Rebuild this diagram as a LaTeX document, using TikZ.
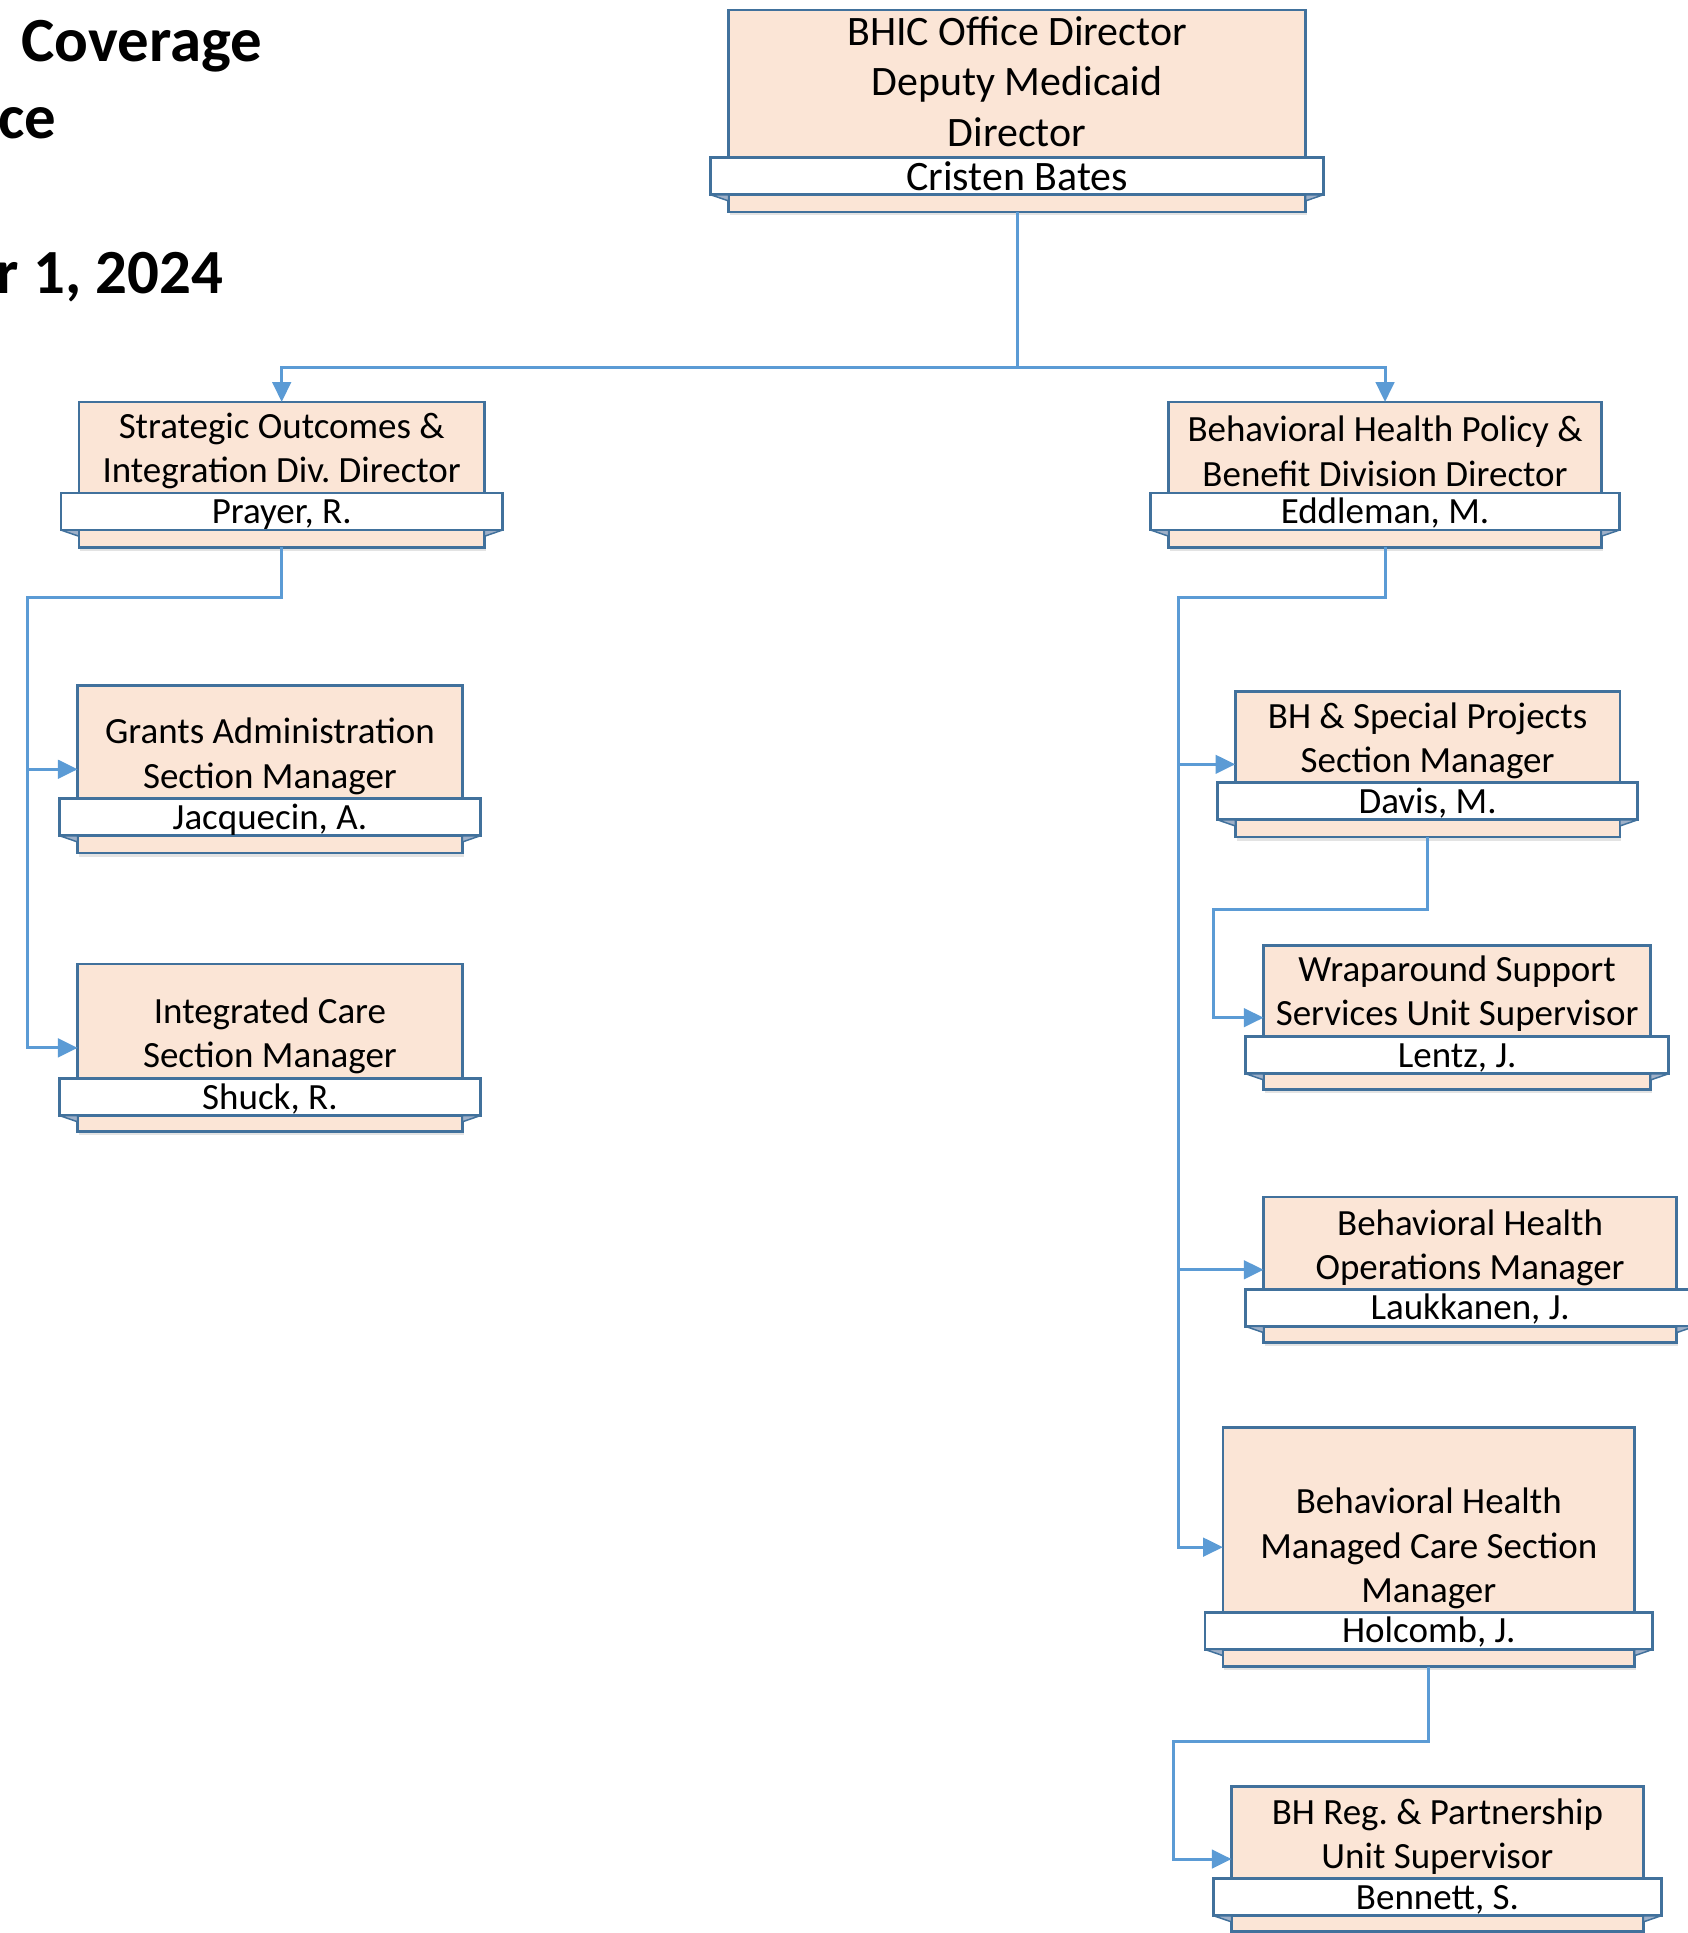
\documentclass[tikz,border=0pt]{standalone}
\usepackage{fontspec}
\setmainfont{Carlito}
\usetikzlibrary{arrows.meta,shadows}
\definecolor{peach}{HTML}{FBE5D6}
\definecolor{bordc}{HTML}{41719C}
\definecolor{connc}{HTML}{5B9BD5}
\definecolor{foldc}{HTML}{9FB0C8}
\tikzset{
 orgbox/.style={draw=bordc, fill=peach, line width=1.1pt, inner sep=0pt, outer sep=0pt,
   drop shadow={shadow xshift=0.6pt, shadow yshift=-1.4pt, opacity=0.18, fill=black!60}},
 bannerbox/.style={draw=bordc, fill=white, line width=1.1pt, inner sep=0pt, outer sep=0pt,
   font=\fontsize{15}{18}\selectfont\frenchspacing, text height=11.6pt, text depth=2pt},
 topbanner/.style={bannerbox, font=\fontsize{17}{20.5}\selectfont, text height=13.3pt, text depth=1.7pt},
 roletext/.style={font=\fontsize{15}{18}\selectfont\frenchspacing, align=center, inner sep=0pt, yshift=-1pt},
 toprole/.style={font=\fontsize{17}{20.5}\selectfont, align=center, inner sep=0pt, yshift=-0.5pt},
 foldtri/.style={draw=bordc, fill=foldc, line width=0.6pt, line join=round},
 conn/.style={draw=connc, line width=1.2pt, -{Triangle[length=8pt,width=7.5pt]}},
 titletext/.style={font=\fontsize{25.5}{31}\selectfont\bfseries, anchor=base west, inner sep=0pt},
}
% #1 name, #2 left, #3 top, #4 right, #5 bottom, #6 banner top, #7 role text centre y, #8 role, #9 person
\newcommand\orgunit[9]{%
  \node[orgbox, anchor=north west, minimum width={(#4-#2)/2}, minimum height={(#5-#3)/2}] (#1) at (#2,#3) {};
  \node[roletext] (#1-role) at ({(#2+#4)/2},#7) {#8};
  \node[bannerbox, anchor=north, minimum width={(#4-#2)/2+14.5}, minimum height=15pt] (#1-name) at ({(#2+#4)/2},#6) {#9};
  \filldraw[foldtri] (#1-name.south west) -- (#1-name.south west -| #1.west) -- ++(0,5) -- cycle;
  \filldraw[foldtri] (#1-name.south east) -- (#1-name.south east -| #1.east) -- ++(0,5) -- cycle;
}
\begin{document}
\begin{tikzpicture}[x=0.5pt,y=-0.5pt]
\useasboundingbox (0,0) rectangle (1369,1568);

% title fragments
\node[titletext] (title1) at (17,50) {Coverage};
\node[titletext] (title2) at (-2,112) {ce};
\node[titletext] (title3) at (-3,238) {r 1, 2024};

% top box
\node[orgbox, anchor=north west, minimum width={(1059-591)/2}, minimum height={(172-8)/2}] (top) at (591,8) {};
\node[toprole] (top-role) at (825,65) {BHIC Office Director\\Deputy Medicaid\\Director};
\node[topbanner, anchor=north, minimum width={(1059-591)/2+14.5}, minimum height=15pt] (top-name) at (825,128) {Cristen Bates};
\filldraw[foldtri] (top-name.south west) -- (top-name.south west -| top.west) -- ++(0,5) -- cycle;
\filldraw[foldtri] (top-name.south east) -- (top-name.south east -| top.east) -- ++(0,5) -- cycle;

\orgunit{strat}{64}{326}{393}{444}{400}{364}{Strategic Outcomes \&\\Integration Div. Director}{Prayer, R.}
\orgunit{grants}{63}{556}{375}{692}{648}{611.5}{Grants Administration\\Section Manager}{Jacquecin, A.}
\orgunit{integ}{63}{782}{375}{918}{875}{838}{Integrated Care\\Section Manager}{Shuck, R.}
\orgunit{policy}{948}{326}{1299}{444}{400}{364}{Behavioral Health Policy \&\\Benefit Division Director}{Eddleman, M.}
\orgunit{davis}{1002}{561}{1314}{679}{635}{599}{BH \& Special Projects\\Section Manager}{Davis, M.}
\orgunit{wrap}{1025}{767}{1339}{884}{841}{804}{Wraparound Support\\Services Unit Supervisor}{Lentz, J.}
\orgunit{ops}{1025}{971}{1360}{1089}{1046}{1010}{Behavioral Health\\Operations Manager}{Laukkanen, J.}
\orgunit{holc}{992}{1158}{1326}{1352}{1308}{1254}{Behavioral Health\\Managed Care Section\\Manager}{Holcomb, J.}
\orgunit{benn}{999}{1449}{1333}{1567}{1524}{1488}{BH Reg. \& Partnership\\Unit Supervisor}{Bennett, S.}

% connectors
\coordinate (lbus) at (22,485);
\coordinate (rbus) at (956,485);
\coordinate (dbus) at (984,738);
\coordinate (hbus) at (952,1413);

\draw[conn] (top.south) -- ++(0,126) -| (strat.north);
\draw[conn] (top.south) -- ++(0,126) -| (policy.north);
\draw[conn] (strat.south) |- (lbus) |- (grants.west);
\draw[conn] (lbus) |- (integ.west);
\draw[conn] (policy.south) |- (rbus) |- (davis.west);
\draw[conn] (rbus) |- (ops.west);
\draw[conn] (rbus) |- (holc.west);
\draw[conn] (davis.south) |- (dbus) |- (wrap.west);
\draw[conn] (holc.south) |- (hbus) |- (benn.west);
\end{tikzpicture}
\end{document}
